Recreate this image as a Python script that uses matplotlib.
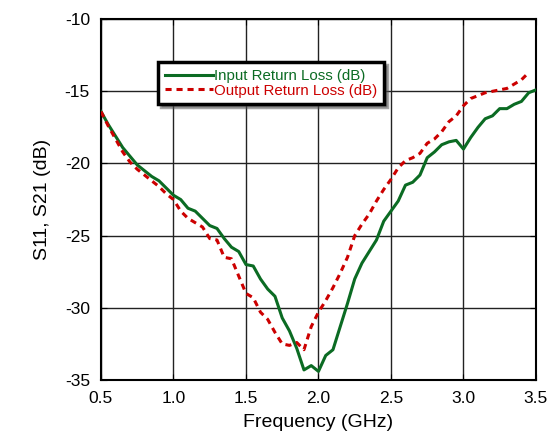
import numpy as np
import matplotlib
matplotlib.use('Agg')
import matplotlib.pyplot as plt

plt.rcParams['font.family'] = ['Liberation Sans', 'DejaVu Sans']
plt.rcParams['axes.unicode_minus'] = False

freq = np.round(np.arange(0.5, 3.501, 0.05), 2)

input_rl = [-16.4, -17.3, -18.1, -18.9, -19.5, -20.1, -20.5, -20.9, -21.2, -21.7,
            -22.2, -22.5, -23.1, -23.3, -23.8, -24.3, -24.5, -25.2, -25.8, -26.1,
            -27.0, -27.1, -28.0, -28.7, -29.2, -30.7, -31.6, -32.8, -34.3, -34.0,
            -34.4, -33.3, -32.9, -31.3, -29.7, -28.0, -26.9, -26.1, -25.3, -24.0,
            -23.3, -22.6, -21.5, -21.3, -20.8, -19.6, -19.2, -18.7, -18.5, -18.4,
            -19.0, -18.2, -17.5, -16.9, -16.7, -16.2, -16.2, -15.9, -15.7, -15.1,
            -14.9]

output_rl = [-16.4, -17.4, -18.3, -19.2, -19.9, -20.4, -20.8, -21.2, -21.6, -22.1,
             -22.5, -23.3, -23.8, -24.1, -24.4, -25.2, -25.3, -26.5, -26.6, -27.8,
             -29.0, -29.3, -30.3, -30.8, -31.7, -32.5, -32.6, -32.4, -32.9, -31.3,
             -30.3, -29.5, -28.6, -27.6, -26.5, -25.0, -24.2, -23.5, -22.6, -21.8,
             -21.1, -20.3, -19.8, -19.6, -19.3, -18.6, -18.3, -17.8, -17.1, -16.7,
             -16.0, -15.5, -15.3, -15.1, -15.0, -14.9, -14.8, -14.5, -14.2, -13.7]

xticks = [0.5, 1.0, 1.5, 2.0, 2.5, 3.0, 3.5]
yticks = [-35, -30, -25, -20, -15, -10]

fig = plt.figure(figsize=(5.48, 4.45), dpi=100)
ax = fig.add_axes([0.1843, 0.146, 0.7937, 0.811])

ax.plot(freq, input_rl, color='#0b6b23', lw=2.2, label='Input Return Loss (dB)', zorder=3)
ax.plot(freq[:len(output_rl)], output_rl, color='#cc0000', lw=2.2, ls=(0, (2, 1.6)),
        label='Output Return Loss (dB)', zorder=3)

ax.set_xlim(0.5, 3.5)
ax.set_ylim(-35, -10)
ax.set_xticks(xticks, ['%.1f' % t for t in xticks])
ax.set_yticks(yticks)
ax.grid(True, color='#222222', lw=1.0)
ax.tick_params(direction='in', top=True, right=True, length=4, labelsize=12.5, pad=8)
for s in ax.spines.values():
    s.set_linewidth(1.5)
ax.set_xlabel('Frequency (GHz)', fontsize=14, labelpad=6)
ax.set_ylabel('S11, S21 (dB)', fontsize=14, labelpad=10)

leg = ax.legend(loc='upper left', bbox_to_anchor=(0.131, 0.881), borderaxespad=0,
                fontsize=10.8, frameon=True, fancybox=False, shadow=True,
                handlelength=3.2, handletextpad=0.1, borderpad=0.45, labelspacing=0.05)
leg.get_frame().set_edgecolor('black')
leg.get_frame().set_linewidth(2.5)
leg.get_frame().set_alpha(1)
for txt, c in zip(leg.get_texts(), ['#0b6b23', '#cc0000']):
    txt.set_color(c)

plt.savefig('out.png', dpi=100)
